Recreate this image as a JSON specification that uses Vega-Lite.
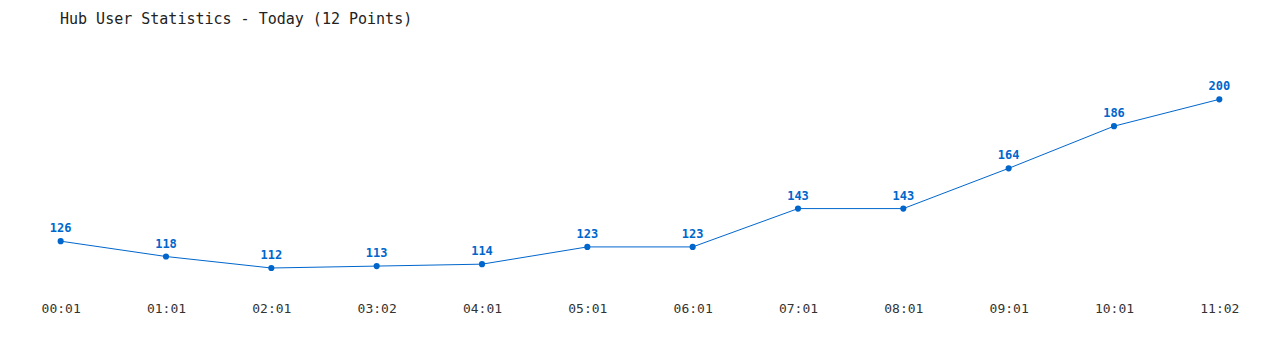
{
  "$schema": "https://vega.github.io/schema/vega-lite/v6.json",
  "width": 1264,
  "height": 230,
  "autosize": {"type": "none"},
  "padding": {"left": 8, "top": 61, "right": 8, "bottom": 59},
  "background": "white",
  "title": {
    "text": "Hub User Statistics - Today (12 Points)",
    "anchor": "start",
    "dx": 52,
    "offset": 34,
    "font": "DejaVu Sans Mono",
    "fontSize": 15,
    "fontWeight": "normal",
    "color": "#222222"
  },
  "config": {"view": {"stroke": null}},
  "data": {
    "values": [
      {"time": "00:01", "users": 126},
      {"time": "01:01", "users": 118},
      {"time": "02:01", "users": 112},
      {"time": "03:02", "users": 113},
      {"time": "04:01", "users": 114},
      {"time": "05:01", "users": 123},
      {"time": "06:01", "users": 123},
      {"time": "07:01", "users": 143},
      {"time": "08:01", "users": 143},
      {"time": "09:01", "users": 164},
      {"time": "10:01", "users": 186},
      {"time": "11:02", "users": 200}
    ]
  },
  "encoding": {
    "x": {
      "field": "time",
      "type": "ordinal",
      "sort": null,
      "scale": {"type": "point", "padding": 0.5},
      "axis": {
        "title": null,
        "domain": false,
        "ticks": false,
        "grid": false,
        "labelAngle": 0,
        "labelPadding": 11,
        "labelFont": "DejaVu Sans Mono",
        "labelFontSize": 13,
        "labelColor": "#333333"
      }
    },
    "y": {
      "field": "users",
      "type": "quantitative",
      "scale": {"domain": [100, 220], "zero": false, "nice": false},
      "axis": null
    }
  },
  "layer": [
    {"mark": {"type": "line", "color": "#0066cc", "strokeWidth": 1}},
    {"mark": {"type": "point", "filled": true, "color": "#0066cc", "size": 38, "opacity": 1}},
    {
      "mark": {
        "type": "text",
        "color": "#0066cc",
        "font": "DejaVu Sans Mono",
        "fontSize": 12,
        "fontWeight": "bold",
        "dy": -13
      },
      "encoding": {"text": {"field": "users", "type": "quantitative"}}
    }
  ]
}
